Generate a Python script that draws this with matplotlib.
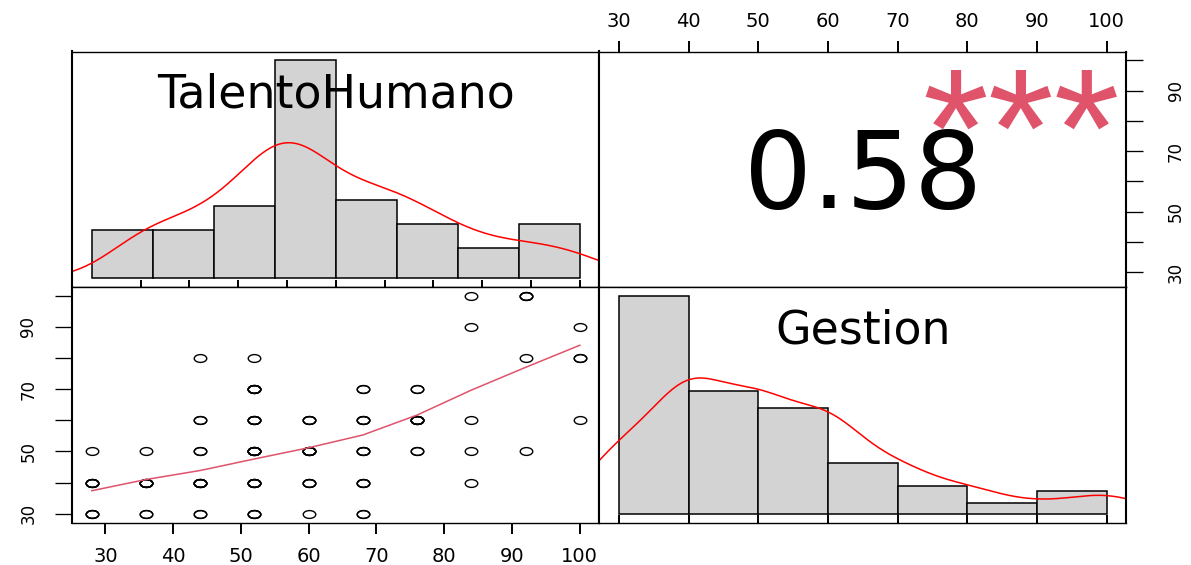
import numpy as np
import matplotlib
matplotlib.use("Agg")
import matplotlib.pyplot as plt
from matplotlib.path import Path
from matplotlib.transforms import Affine2D, offset_copy, blended_transform_factory
from matplotlib.textpath import TextPath
from matplotlib.font_manager import FontProperties

# ============ DATA ============
VAR_NAMES = ["TalentoHumano", "Gestion"]

# one entry per occupied (TalentoHumano, Gestion) cell + number of respondents in it
talento_vals = [28, 28, 28, 36, 36, 36, 44, 44, 44, 44, 44,
                52, 52, 52, 52, 52, 52, 60, 60, 60, 60,
                68, 68, 68, 68, 68, 76, 76, 76,
                84, 84, 84, 84, 84, 92, 92, 92, 100, 100, 100]
gestion_vals = [30, 40, 50, 30, 40, 50, 30, 40, 50, 60, 80,
                30, 40, 50, 60, 70, 80, 30, 40, 50, 60,
                30, 40, 50, 60, 70, 50, 60, 70,
                40, 50, 60, 90, 100, 50, 80, 100, 60, 80, 90]
cell_counts = [3, 4, 1, 2, 5, 1, 2, 5, 2, 2, 1,
               3, 5, 6, 4, 5, 1, 1, 3, 5, 3,
               2, 3, 3, 3, 2, 2, 5, 2,
               1, 1, 1, 1, 1, 1, 1, 3, 1, 2, 1]

# histogram breaks (Freedman-Diaconis, as picked by R's hist)
talento_breaks = [20, 30, 40, 50, 60, 70, 80, 90, 100]
gestion_breaks = [30, 40, 50, 60, 70, 80, 90, 100]

# lowess smooth of Gestion on TalentoHumano
smooth_x = [28, 36, 44, 52, 60, 68, 76, 84, 92, 100]
smooth_y = [37.4, 41.0, 43.9, 47.6, 51.2, 55.3, 61.7, 69.7, 77.0, 84.1]

R_VALUE = 0.58
R_STARS = "***"

AXIS_TICKS = [30, 40, 50, 60, 70, 80, 90, 100]
SIDE_LABELS = ["30", "", "50", "", "70", "", "90", ""]

RED = "red"
PINK = "#DF536B"
FONT = "DejaVu Sans"
STAR_FONT = "Liberation Sans"

W, H = 1191, 565


def r_lim(lo, hi):
    pad = 0.04 * (hi - lo)
    return lo - pad, hi + pad


def bw_nrd0(x):
    sd = np.std(x, ddof=1)
    q1, q3 = np.percentile(x, [25, 75])
    return 0.9 * min(sd, (q3 - q1) / 1.34) * len(x) ** -0.2


def density(x, n=512):
    bw = bw_nrd0(x)
    grid = np.linspace(x.min() - 3 * bw, x.max() + 3 * bw, n)
    z = (grid[:, None] - x[None, :]) / bw
    return grid, np.exp(-0.5 * z ** 2).sum(axis=1) / (len(x) * bw * np.sqrt(2 * np.pi))


def ink_text(ax, x, y, s, size, family=FONT, **kw):
    """Put text so the middle of its glyphs sits on (x, y) in axes coords."""
    prop = FontProperties(family=family, size=size)
    ext = TextPath((0, 0), s, size=size, prop=prop).get_extents()
    cy = (ext.y0 + ext.y1) / 2
    tr = offset_copy(ax.transAxes, fig=ax.figure, y=-cy, units="points")
    return ax.text(x, y, s, transform=tr, ha="center", va="baseline",
                   fontproperties=prop, **kw)


def hist_panel(ax, x, breaks, name):
    breaks = np.asarray(breaks, float)
    # right-closed bins like R (first one includes its lower edge)
    idx = np.clip(np.searchsorted(breaks, x, side="left") - 1, 0, len(breaks) - 2)
    counts = np.bincount(idx, minlength=len(breaks) - 1)
    widths = np.diff(breaks)
    dens = counts / (len(x) * widths)
    ax.bar(breaks[:-1], dens, width=widths, align="edge", color="#D3D3D3",
           edgecolor="black", linewidth=1.1, zorder=1)
    gx, gy = density(x)
    ax.plot(gx, gy, color=RED, lw=1.1, zorder=2)
    # rug
    trans = blended_transform_factory(ax.transData, ax.transAxes)
    ax.vlines(np.unique(x), 0, 0.03, transform=trans, color="black", lw=1.4)
    ax.set_xlim(*r_lim(breaks[0], breaks[-1]))
    ax.set_ylim(*r_lim(0, dens.max()))
    ax.set_xticks([])
    ax.set_yticks([])
    ink_text(ax, 0.5, 0.8333, name, 33, zorder=4)


def style_box(ax):
    for side in ["left", "right"]:
        ax.spines[side].set_linewidth(1.5)
    for side in ["top", "bottom"]:
        ax.spines[side].set_linewidth(1.0)


tal = np.repeat(talento_vals, cell_counts).astype(float)
ges = np.repeat(gestion_vals, cell_counts).astype(float)

fig = plt.figure(figsize=(W / 100, H / 100), dpi=100)
fig.patch.set_facecolor("white")

L, M, R = 72.3, 599.3, 1126.3
T, MID, B = 51.5, 287.0, 522.5

ax_tl = fig.add_axes([L / W, 1 - MID / H, (M - L) / W, (MID - T) / H])
ax_tr = fig.add_axes([M / W, 1 - MID / H, (R - M) / W, (MID - T) / H])
ax_bl = fig.add_axes([L / W, 1 - B / H, (M - L) / W, (B - MID) / H])
ax_br = fig.add_axes([M / W, 1 - B / H, (R - M) / W, (B - MID) / H])

# ---- diagonal: histograms with density curve ----
hist_panel(ax_tl, tal, talento_breaks, VAR_NAMES[0])
hist_panel(ax_br, ges, gestion_breaks, VAR_NAMES[1])

# ---- lower: scatter + smooth ----
oval = Path.unit_circle().transformed(Affine2D().scale(1.6, 1.0))
ax_bl.plot(tal, ges, linestyle="none", marker=oval, markersize=9,
           markerfacecolor="none", markeredgecolor="black", markeredgewidth=1.0)
ax_bl.plot(smooth_x, smooth_y, color=PINK, lw=1.1)
ax_bl.set_xlim(*r_lim(tal.min(), tal.max()))
ax_bl.set_ylim(*r_lim(ges.min(), ges.max()))

ax_bl.set_xticks(AXIS_TICKS)
ax_bl.tick_params(axis="x", direction="out", length=7.9, width=1.4,
                  labelsize=14, pad=9.5)
ax_bl.set_yticks(AXIS_TICKS)
ax_bl.set_yticklabels(SIDE_LABELS)
ax_bl.tick_params(axis="y", direction="out", length=12.2, width=0.95,
                  labelsize=12, pad=13, labelrotation=90)
for lab in ax_bl.get_yticklabels():
    lab.set_va("center")

# ---- upper: correlation ----
ax_tr.set_xlim(*r_lim(ges.min(), ges.max()))
ax_tr.set_ylim(*r_lim(tal.min(), tal.max()))
ax_tr.xaxis.set_ticks_position("top")
ax_tr.set_xticks(AXIS_TICKS)
ax_tr.tick_params(axis="x", direction="out", length=7.9, width=1.4,
                  labelsize=14, pad=7, top=True, bottom=False,
                  labeltop=True, labelbottom=False)
ax_tr.yaxis.set_ticks_position("right")
ax_tr.set_yticks(AXIS_TICKS)
ax_tr.set_yticklabels(SIDE_LABELS)
ax_tr.tick_params(axis="y", direction="out", length=12.2, width=0.95,
                  labelsize=12, pad=17, labelrotation=90, right=True,
                  left=False, labelright=True, labelleft=False)
for lab in ax_tr.get_yticklabels():
    lab.set_va("center")

ink_text(ax_tr, 0.5, 0.5, f"{R_VALUE:.2f}", 77)
ink_text(ax_tr, 0.8, 0.8, R_STARS, 122, family=STAR_FONT, color=PINK, clip_on=True)

for ax in [ax_tl, ax_tr, ax_bl, ax_br]:
    style_box(ax)

fig.savefig("out.png", dpi=100, facecolor="white")
